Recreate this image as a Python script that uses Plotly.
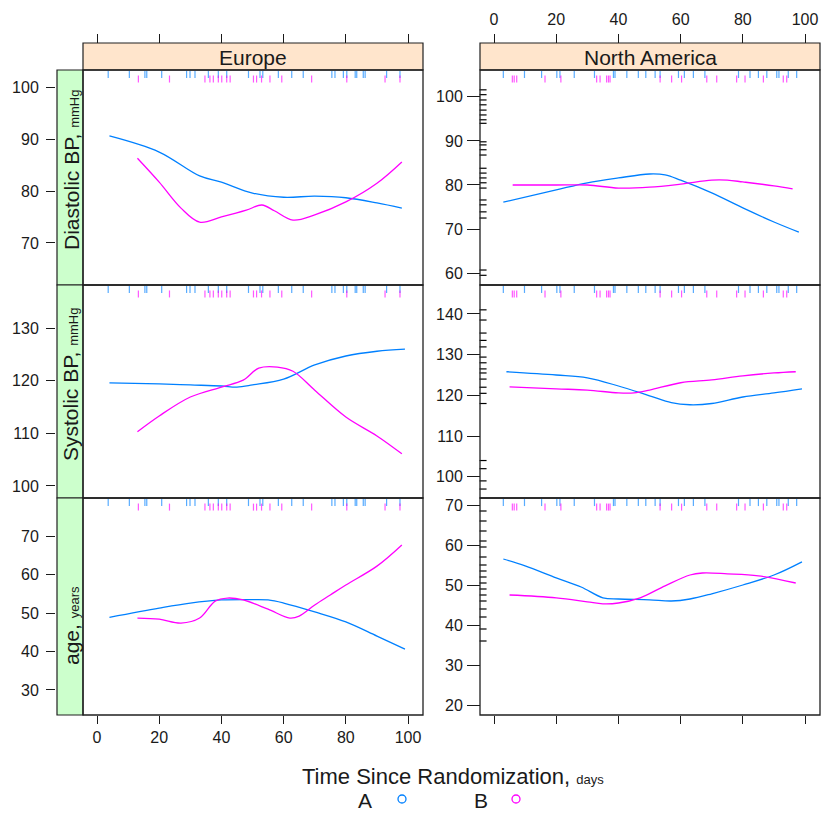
import plotly.graph_objects as go

# ---------------------------------------------------------------- data
TICKS_X = [0, 20, 40, 60, 80, 100]

# Diastolic BP, mmHg
EU_DBP_A_T = [4, 20, 33, 40, 50, 60, 70, 80, 90, 98]
EU_DBP_A = [90.6, 87.5, 82.9, 81.7, 79.6, 78.8, 79.0, 78.7, 77.7, 76.7]
EU_DBP_B_T = [13, 20, 27, 33, 40, 48, 53, 57, 63, 70, 80, 90, 98]
EU_DBP_B = [86.3, 81.7, 76.7, 74.0, 75.0, 76.3, 77.3, 76.2, 74.4, 75.4, 77.9, 81.5, 85.6]
NA_DBP_A_T = [3, 20, 30, 40, 50, 55, 60, 70, 80, 90, 98]
NA_DBP_A = [76.1, 78.9, 80.5, 81.6, 82.5, 82.3, 81.1, 78.2, 74.8, 71.6, 69.3]
NA_DBP_B_T = [6, 20, 30, 40, 50, 60, 70, 75, 80, 90, 96]
NA_DBP_B = [80.0, 80.0, 80.0, 79.3, 79.5, 80.2, 81.1, 81.1, 80.7, 79.8, 79.1]

# Systolic BP, mmHg
EU_SBP_A_T = [4, 20, 30, 40, 45, 50, 60, 70, 80, 90, 99]
EU_SBP_A = [119.6, 119.4, 119.2, 119.0, 118.8, 119.2, 120.3, 123.0, 124.7, 125.6, 126.0]
EU_SBP_B_T = [13, 20, 30, 40, 47, 52, 58, 63, 70, 80, 90, 98]
EU_SBP_B = [110.3, 113.3, 116.9, 118.8, 120.1, 122.4, 122.6, 121.8, 118.2, 113.1, 109.5, 106.1]
NA_SBP_A_T = [4, 20, 30, 40, 50, 57, 63, 70, 80, 90, 99]
NA_SBP_A = [125.8, 125.0, 124.3, 122.3, 119.9, 118.2, 117.7, 118.0, 119.6, 120.6, 121.6]
NA_SBP_B_T = [5, 20, 30, 40, 45, 50, 60, 70, 80, 90, 97]
NA_SBP_B = [122.1, 121.6, 121.3, 120.6, 120.6, 121.3, 123.1, 123.8, 124.8, 125.5, 125.8]

# age, years
EU_AGE_A_T = [4, 20, 30, 40, 50, 55, 60, 70, 80, 90, 99]
EU_AGE_A = [48.9, 51.3, 52.6, 53.4, 53.5, 53.4, 52.6, 50.3, 47.7, 44.0, 40.6]
EU_AGE_B_T = [13, 20, 27, 33, 38, 42, 47, 55, 62, 65, 70, 75, 80, 90, 98]
EU_AGE_B = [48.7, 48.4, 47.4, 48.7, 53.1, 53.9, 53.4, 51.0, 48.7, 49.2, 52.1, 54.7, 57.3, 62.2, 67.7]
NA_AGE_A_T = [3, 10, 20, 28, 35, 40, 50, 57, 63, 70, 80, 90, 99]
NA_AGE_A = [56.5, 54.8, 51.8, 49.5, 46.8, 46.5, 46.3, 46.0, 46.5, 47.8, 50.0, 52.5, 55.8]
NA_AGE_B_T = [5, 20, 30, 35, 40, 47, 55, 63, 67, 75, 85, 97]
NA_AGE_B = [47.5, 46.8, 45.8, 45.3, 45.5, 46.8, 49.8, 52.5, 53.0, 52.8, 52.3, 50.5]

# individual randomization times (rug)
EU_RUG_A = [3.6, 10.4, 15.4, 16.0, 20.8, 28.8, 29.9, 31.5, 35.8, 39.0, 41.7, 48.7,
            52.4, 53.3, 58.3, 62.6, 66.3, 75.5, 76.5, 79.2, 80.3, 83.0, 83.5, 85.6,
            86.2, 93.1, 97.4]
EU_RUG_B = [13.3, 23.3, 34.7, 36.3, 37.4, 39.0, 40.1, 41.7, 42.8, 50.3, 51.3, 52.9,
            55.6, 59.4, 69.0, 80.3, 92.6, 97.4]
NA_RUG_A = [3.0, 9.8, 15.3, 20.2, 21.2, 25.8, 32.3, 38.4, 38.9, 42.7, 46.4, 48.8,
            51.8, 53.4, 59.3, 61.2, 64.1, 67.8, 78.6, 82.3, 85.0, 87.7, 90.9, 91.6,
            94.6, 97.3]
NA_RUG_B = [5.9, 6.5, 7.3, 16.4, 21.5, 33.0, 34.1, 36.2, 36.8, 37.3, 53.4, 57.1,
            60.3, 68.4, 71.6, 78.0, 80.7, 86.6, 93.0, 94.1]

# individual response values (rug along the left edge)
NA_YRUG_DBP = [101.6, 100.5, 99.3, 98.2, 97.0, 95.9, 94.8, 94.0, 89.8, 89.1, 88.0,
               86.8, 83.8, 82.7, 81.6, 80.5, 79.3, 76.6, 75.5, 73.9, 72.5, 60.7, 59.5]
NA_YRUG_SBP = [141.0, 138.5, 135.3, 133.5, 131.9, 129.4, 128.0, 126.5, 125.5, 124.0,
               122.0, 120.5, 118.0, 104.0, 102.0, 99.0, 97.0]
NA_YRUG_AGE = [68.5, 66.0, 63.5, 61.0, 59.5, 57.0, 55.0, 53.5, 52.0, 50.5, 49.0,
               47.5, 46.0, 44.0, 42.0, 39.0, 36.0]

REGIONS = ["Europe", "North America"]
VARS = [
    ("Diastolic BP", "mmHg", [61.9, 103.3], [70, 80, 90, 100], [57.3, 106.1], [60, 70, 80, 90, 100]),
    ("Systolic BP", "mmHg", [97.7, 138.2], [100, 110, 120, 130], [94.8, 147.1], [100, 110, 120, 130, 140]),
    ("age", "years", [23.5, 79.9], [30, 40, 50, 60, 70], [17.5, 71.75], [20, 30, 40, 50, 60, 70]),
]
CURVES = [
    [(EU_DBP_A_T, EU_DBP_A, EU_DBP_B_T, EU_DBP_B), (NA_DBP_A_T, NA_DBP_A, NA_DBP_B_T, NA_DBP_B)],
    [(EU_SBP_A_T, EU_SBP_A, EU_SBP_B_T, EU_SBP_B), (NA_SBP_A_T, NA_SBP_A, NA_SBP_B_T, NA_SBP_B)],
    [(EU_AGE_A_T, EU_AGE_A, EU_AGE_B_T, EU_AGE_B), (NA_AGE_A_T, NA_AGE_A, NA_AGE_B_T, NA_AGE_B)],
]
RUGS = [(EU_RUG_A, EU_RUG_B), (NA_RUG_A, NA_RUG_B)]
YRUGS = [NA_YRUG_DBP, NA_YRUG_SBP, NA_YRUG_AGE]

# ---------------------------------------------------------------- style
W, H = 821, 815
BLUE, MAGENTA = "#0080ff", "#ff00ff"
STRIP_TOP, STRIP_LEFT = "#ffe5cc", "#ccffcc"
FONT = "Liberation Sans, Arial, sans-serif"
TEXT = "#1a1a1a"
TICK_SIZE, LABEL_SIZE, UNIT_SIZE = 16, 21, 13
XR = [-4.5, 104.8]


def px(x):
    return x / W


def py(y):
    return 1 - y / H


COL_X = [(83, 423), (480, 820)]
ROW_Y = [(70, 285), (285, 498), (498, 715)]
STRIP_Y = (43, 70)
LEFT_STRIP_X = (57, 83)

fig = go.Figure()
layout = dict(
    width=W, height=H, margin=dict(l=0, r=0, t=0, b=0),
    paper_bgcolor="white", plot_bgcolor="white",
    showlegend=False, font=dict(family=FONT, size=TICK_SIZE, color=TEXT),
)
shapes, annotations = [], []

axis_common = dict(showgrid=False, zeroline=False, showline=False, ticks="outside",
                   tickcolor="#1a1a1a", tickwidth=1,
                   tickfont=dict(size=TICK_SIZE, family=FONT, color=TEXT))

# x axes: Europe labelled at the bottom, North America labelled at the top
layout["xaxis"] = dict(axis_common, domain=[px(COL_X[0][0]), px(COL_X[0][1])], range=XR,
                       anchor="free", position=py(ROW_Y[2][1]), side="bottom",
                       tickvals=TICKS_X, ticklen=8)
layout["xaxis2"] = dict(axis_common, domain=[px(COL_X[1][0]), px(COL_X[1][1])], range=XR,
                        anchor="free", position=py(STRIP_Y[0]), side="top",
                        tickvals=TICKS_X, ticklen=9, ticklabelstandoff=3)
layout["xaxis3"] = dict(axis_common, matches="x", overlaying="x", range=XR, anchor="free",
                        position=py(STRIP_Y[0]), side="top", tickvals=TICKS_X,
                        ticklen=9, showticklabels=False)
layout["xaxis4"] = dict(axis_common, matches="x2", overlaying="x2", range=XR, anchor="free",
                        position=py(ROW_Y[2][1]), side="bottom", tickvals=TICKS_X,
                        ticklen=8, showticklabels=False)

yi = 0
for r, (name, unit, eu_rng, eu_ticks, na_rng, na_ticks) in enumerate(VARS):
    y0, y1 = ROW_Y[r]
    for c in range(2):
        yi += 1
        yname = "yaxis" if yi == 1 else f"yaxis{yi}"
        yref = "y" if yi == 1 else f"y{yi}"
        xref = "x" if c == 0 else "x2"
        rng, tv = (eu_rng, eu_ticks) if c == 0 else (na_rng, na_ticks)
        layout[yname] = dict(axis_common, domain=[py(y1), py(y0)], range=rng,
                             anchor="free",
                             position=px(LEFT_STRIP_X[0] - 2) if c == 0 else px(COL_X[1][0]),
                             side="left", tickvals=tv,
                             ticklen=9 if c == 0 else 13,
                             ticklabelstandoff=4 if c == 0 else 1)

        # rug of randomization times near the panel top
        span = rng[1] - rng[0]
        ra, rb = RUGS[c]
        fig.add_trace(go.Scatter(x=ra, y=[rng[1] - 0.021 * span] * len(ra), xaxis=xref, yaxis=yref,
                                 mode="markers", hoverinfo="skip", opacity=0.65,
                                 marker=dict(symbol="line-ns", size=5, line=dict(color=BLUE, width=1.2))))
        fig.add_trace(go.Scatter(x=rb, y=[rng[1] - 0.042 * span] * len(rb), xaxis=xref, yaxis=yref,
                                 mode="markers", hoverinfo="skip", opacity=0.65,
                                 marker=dict(symbol="line-ns", size=5, line=dict(color=MAGENTA, width=1.2))))
        if c == 1:
            yr = YRUGS[r]
            fig.add_trace(go.Scatter(x=[XR[0] + 0.009 * (XR[1] - XR[0])] * len(yr), y=yr,
                                     xaxis=xref, yaxis=yref, mode="markers", hoverinfo="skip",
                                     cliponaxis=False,
                                     marker=dict(symbol="line-ew", size=5,
                                                 line=dict(color="black", width=1.2))))

        # smoothed group curves
        ta, va, tb, vb = CURVES[r][c]
        fig.add_trace(go.Scatter(x=ta, y=va, xaxis=xref, yaxis=yref, mode="lines", name="A",
                                 line=dict(color=BLUE, width=1.3, shape="spline", smoothing=1.0)))
        fig.add_trace(go.Scatter(x=tb, y=vb, xaxis=xref, yaxis=yref, mode="lines", name="B",
                                 line=dict(color=MAGENTA, width=1.3, shape="spline", smoothing=1.0)))

        # panel border
        shapes.append(dict(type="rect", xref=f"{xref} domain", yref=f"{yref} domain",
                           x0=0, x1=1, y0=0, y1=1, line=dict(color="#202020", width=1.3),
                           layer="above"))

    # left strip with the variable name
    shapes.append(dict(type="rect", xref="paper", yref="paper",
                       x0=px(LEFT_STRIP_X[0]), x1=px(LEFT_STRIP_X[1]), y0=py(y1), y1=py(y0),
                       fillcolor=STRIP_LEFT, line=dict(color="#202020", width=1.2), layer="below"))

# dummy traces so the tick-only axes get drawn
fig.add_trace(go.Scatter(x=[None], y=[None], xaxis="x3", yaxis="y", hoverinfo="skip"))
fig.add_trace(go.Scatter(x=[None], y=[None], xaxis="x4", yaxis="y2", hoverinfo="skip"))

# top strips with the region name
for c, region in enumerate(REGIONS):
    x0, x1 = COL_X[c]
    shapes.append(dict(type="rect", xref="paper", yref="paper", x0=px(x0), x1=px(x1),
                       y0=py(STRIP_Y[1]), y1=py(STRIP_Y[0]), fillcolor=STRIP_TOP,
                       line=dict(color="#202020", width=1.2), layer="below"))
    annotations.append(dict(text=region, xref="paper", yref="paper", x=px((x0 + x1) / 2),
                            y=py(57), showarrow=False, xanchor="center", yanchor="middle",
                            font=dict(size=LABEL_SIZE, family=FONT, color=TEXT)))

# variable labels in the left strips
LABEL_CENTERS = [170, 385, 626]
for r, (name, unit, *_rest) in enumerate(VARS):
    annotations.append(dict(text=f"{name}, <span style='font-size:{UNIT_SIZE}px'>{unit}</span>",
                            xref="paper", yref="paper", x=px(71), y=py(LABEL_CENTERS[r]),
                            textangle=-90, showarrow=False, xanchor="center", yanchor="middle",
                            font=dict(size=LABEL_SIZE, family=FONT, color=TEXT)))

# x-axis title
annotations.append(dict(text=f"Time Since Randomization, <span style='font-size:{UNIT_SIZE}px'>days</span>",
                        xref="paper", yref="paper", x=px(453), y=py(776), showarrow=False,
                        xanchor="center", yanchor="middle",
                        font=dict(size=LABEL_SIZE + 1, family=FONT, color=TEXT)))

# key
for label, color, tx, cx in [("A", BLUE, 365, 402), ("B", MAGENTA, 481, 516)]:
    annotations.append(dict(text=label, xref="paper", yref="paper", x=px(tx), y=py(800),
                            showarrow=False, xanchor="center", yanchor="middle",
                            font=dict(size=LABEL_SIZE, family=FONT, color=TEXT)))
    shapes.append(dict(type="circle", xref="paper", yref="paper",
                       x0=px(cx - 4), x1=px(cx + 4), y0=py(803), y1=py(795),
                       line=dict(color=color, width=1.3)))

layout["shapes"] = shapes
layout["annotations"] = annotations
fig.update_layout(**layout)
fig.write_html("out.html")
